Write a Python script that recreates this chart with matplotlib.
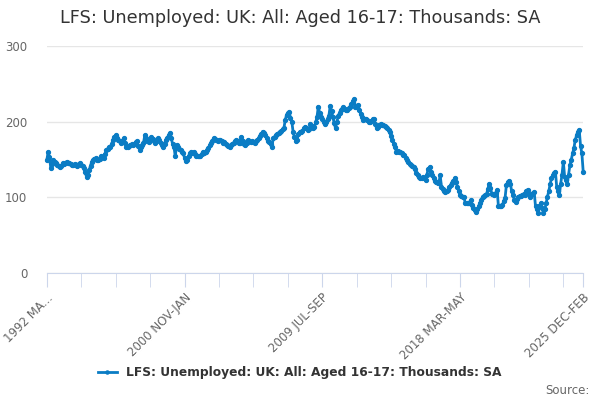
import matplotlib
matplotlib.use("Agg")
import matplotlib.pyplot as plt

TITLE = "LFS: Unemployed: UK: All: Aged 16-17: Thousands: SA"

# rolling quarters, 1992 MAR-MAY .. 2025 DEC-FEB (406 periods)
values = [
    149, 160, 153, 139, 144, 149, 147, 145, 143, 141,
    140, 142, 145, 144, 146, 147, 146, 145, 144, 143,
    143, 144, 143, 142, 144, 145, 143, 141, 139, 133,
    127, 129, 136, 142, 147, 150, 151, 152, 150, 149,
    151, 154, 153, 152, 157, 162, 164, 166, 167, 171,
    176, 180, 182, 179, 176, 174, 172, 175, 178, 172,
    167, 166, 168, 169, 170, 169, 171, 173, 174, 168,
    163, 166, 169, 172, 182, 178, 175, 173, 177, 180,
    177, 174, 172, 175, 178, 176, 172, 169, 167, 171,
    176, 179, 182, 185, 178, 170, 167, 154, 169, 166,
    164, 162, 160, 158, 152, 148, 150, 154, 158, 160,
    159, 160, 157, 154, 155, 154, 154, 157, 160, 158,
    160, 162, 165, 169, 172, 175, 178, 177, 176, 174,
    176, 176, 174, 172, 173, 171, 169, 168, 167, 169,
    170, 172, 174, 176, 174, 172, 172, 180, 174, 171,
    169, 172, 176, 175, 173, 174, 173, 172, 174, 176,
    178, 181, 184, 187, 185, 182, 178, 175, 173, 170,
    167, 178, 180, 182, 184, 185, 187, 188, 190, 191,
    202, 209, 211, 213, 205, 200, 186, 180, 175, 176,
    184, 186, 187, 188, 191, 193, 191, 189, 190, 197,
    194, 192, 193, 199, 206, 220, 211, 206, 204, 200,
    197, 200, 204, 208, 221, 214, 206, 198, 191, 200,
    207, 212, 215, 217, 219, 217, 215, 216, 218, 219,
    223, 227, 230, 220, 219, 222, 215, 210, 206, 202,
    203, 204, 202, 200, 199, 201, 203, 204, 197, 191,
    193, 196, 197, 196, 195, 194, 193, 191, 189, 186,
    181, 176, 171, 166, 160, 161, 160, 160, 158, 156,
    156, 152, 149, 147, 144, 143, 141, 140, 138, 132,
    129, 127, 125, 126, 127, 126, 123, 130, 138, 140,
    134, 129, 125, 121, 120, 119, 119, 129, 114, 111,
    109, 107, 108, 110, 113, 116, 119, 122, 125, 120,
    114, 108, 103, 102, 101, 100, 92, 93, 92, 93,
    96, 90, 86, 83, 81, 84, 88, 92, 96, 101,
    102, 103, 104, 111, 118, 112, 105, 104, 103, 106,
    110, 88, 89, 89, 90, 95, 99, 116, 120, 122,
    118, 108, 103, 97, 94, 98, 101, 102, 102, 103,
    104, 103, 108, 110, 104, 101, 104, 106, 107, 88,
    84, 79, 88, 92, 86, 79, 84, 92, 101, 108,
    117, 125, 129, 132, 134, 114, 108, 103, 118, 130,
    147, 127, 123, 118, 130, 143, 150, 158, 165, 176,
    182, 187, 189, 168, 158, 134,
]

tick_pos = [0, 104, 208, 312, 405]
tick_labels = ["1992 MA...", "2000 NOV-JAN", "2009 JUL-SEP", "2018 MAR-MAY", "2025 DEC-FEB"]

fig = plt.figure(figsize=(6, 4), dpi=100)
ax = fig.add_axes([0.078, 0.3175, 0.894, 0.5675])

x = list(range(len(values)))
ax.plot(x, values, color="#0a7cc4", lw=2, marker="o", ms=2.8, clip_on=False, zorder=3,
        label=TITLE)

ax.set_xlim(0, len(values) - 1)
ax.set_ylim(0, 300)
ax.set_yticks([0, 100, 200, 300])
ax.grid(axis="y", color="#e6e6e6", lw=1)
ax.set_axisbelow(True)

for s in ["top", "right", "left"]:
    ax.spines[s].set_visible(False)
ax.spines["bottom"].set_color("#ccd6eb")
ax.spines["bottom"].set_zorder(1)

minor = list(range(0, len(values), 26)) + [len(values) - 1]
ax.set_xticks(minor, minor=True)
ax.set_xticks(tick_pos)
ax.set_xticklabels(tick_labels, rotation=45, ha="right", rotation_mode="anchor")
ax.tick_params(axis="x", which="both", length=10, color="#ccd6eb", labelsize=8.5,
               labelcolor="#666666", pad=3)
ax.tick_params(axis="y", length=0, labelsize=8.5, labelcolor="#666666", pad=14)

fig.text(0.5, 0.955, TITLE, ha="center", va="center", fontsize=12.7, color="#333333")

leg = fig.legend(loc="center", bbox_to_anchor=(0.5, 0.068), frameon=False,
                 prop={"weight": "bold", "size": 8.8}, handlelength=1.5, markerscale=0.8)
for t in leg.get_texts():
    t.set_color("#333333")

fig.text(0.983, 0.025, "Source:", ha="right", va="center", fontsize=8.5, color="#666666")

fig.savefig("out.png", dpi=100)
